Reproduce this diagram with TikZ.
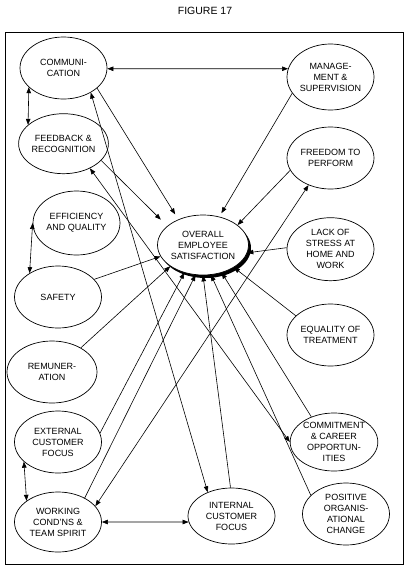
\documentclass[tikz,border=0pt]{standalone}
\usepackage{fontspec}
\setmainfont{Liberation Sans}
\usetikzlibrary{positioning,shapes.geometric,arrows.meta,shadows}

\begin{document}
\begin{tikzpicture}[x=1pt,y=-1pt,
    factor/.style={draw, ellipse, line width=0.7pt, minimum width=87pt,
      minimum height=62pt, inner sep=0pt, align=center,
      font=\fontsize{9}{11}\selectfont},
    link/.style={line width=0.6pt},
    >={Triangle[length=6pt,width=4.5pt]}]
    \useasboundingbox (0,0) rectangle (409,571);
    \node[font=\fontsize{10.5}{12}\selectfont] (Title) at (205,11) {FIGURE 17};
    \draw[line width=0.8pt] (5,32) rectangle (403,564);

    % left column
    \node[factor] (Comm) at (63.5,68) {COMMUNI-\\CATION};
    \node[factor, minimum height=60pt, below={14pt of Comm}] (Feedback) {FEEDBACK \&\\RECOGNITION};
    \node[factor, minimum height=64pt] (Efficiency) at (76.5,223) {EFFICIENCY\\AND QUALITY};
    \node[factor] (Safety) at (58,297) {SAFETY};
    \node[factor, minimum width=90pt] (Remuneration) at (52,372) {REMUNER-\\ATION};
    \node[factor] (External) at (58,442) {EXTERNAL\\CUSTOMER\\FOCUS};
    \node[factor, minimum height=60pt] (Working) at (58,522) {WORKING\\COND'NS \&\\TEAM SPIRIT};

    % centre
    \node[factor, fill=white, minimum width=90pt, minimum height=60pt,
      drop shadow={shadow xshift=2.5pt, shadow yshift=-3pt, fill=black, opacity=1}]
      (Overall) at (203,245) {OVERALL\\EMPLOYEE\\SATISFACTION};
    \node[factor, minimum height=56pt] (Internal) at (231.5,516) {INTERNAL\\CUSTOMER\\FOCUS};

    % right column
    \node[factor, minimum height=66pt] (Mgmt) at (330.5,77) {MANAGE-\\MENT \&\\SUPERVISION};
    \node[factor] (Freedom) at (330.5,158) {FREEDOM TO\\PERFORM};
    \node[factor, minimum height=63pt, below={28pt of Freedom}] (Stress) {LACK OF\\STRESS AT\\HOME AND\\WORK};
    \node[factor] (Equality) at (330.5,335) {EQUALITY OF\\TREATMENT};
    \node[factor, minimum height=58pt] (Commitment) at (334,442) {COMMITMENT\\\& CAREER\\OPPORTUN-\\ITIES};
    \node[factor] (Positive) at (346,514) {POSITIVE\\ORGANIS-\\ATIONAL\\CHANGE};

    % two-way links
    \draw[link,<->] (Comm.-1) -- (Mgmt.169);
    \draw[link,<->] (Comm.209) -- (Feedback.152);
    \draw[link,<->] (Efficiency.180) -- (Safety.140);
    \draw[link,<->] (External.210) -- (Working.146);
    \draw[link,<->] (Working.0) -- (Internal.188);
    \draw[link,<->] (Comm.-42) -- (Internal.135);
    \draw[link,<->] (Feedback.-43) -- (Commitment.180);
    \draw[link,<->] (Working.23) -- (Freedom.231);

    % links into overall satisfaction
    \draw[link,->,shorten >=6pt] (Comm.-31) -- (Overall.134);
    \draw[link,->,shorten >=9pt] (Feedback.-24) -- (Overall.152);
    \draw[link,->,shorten >=4pt] (Mgmt.203) -- (Overall.60);
    \draw[link,->] (Freedom.197) -- (Overall.30);
    \draw[link,->] (Stress.178) -- (Overall.-10);
    \draw[link,->] (Equality.151) -- (Overall.-36);
    \draw[link,->] (Commitment.132) -- (Overall.-56);
    \draw[link,->] (Positive.152) -- (Overall.-75);
    \draw[link,->] (Internal.92) -- (Overall.-90);
    \draw[link,->] (Working.42) -- (Overall.-104);
    \draw[link,->] (External.12) -- (Overall.-124);
    \draw[link,->] (Remuneration.40) -- (Overall.213);
    \draw[link,->] (Safety.26) -- (Overall.195);
\end{tikzpicture}
\end{document}
